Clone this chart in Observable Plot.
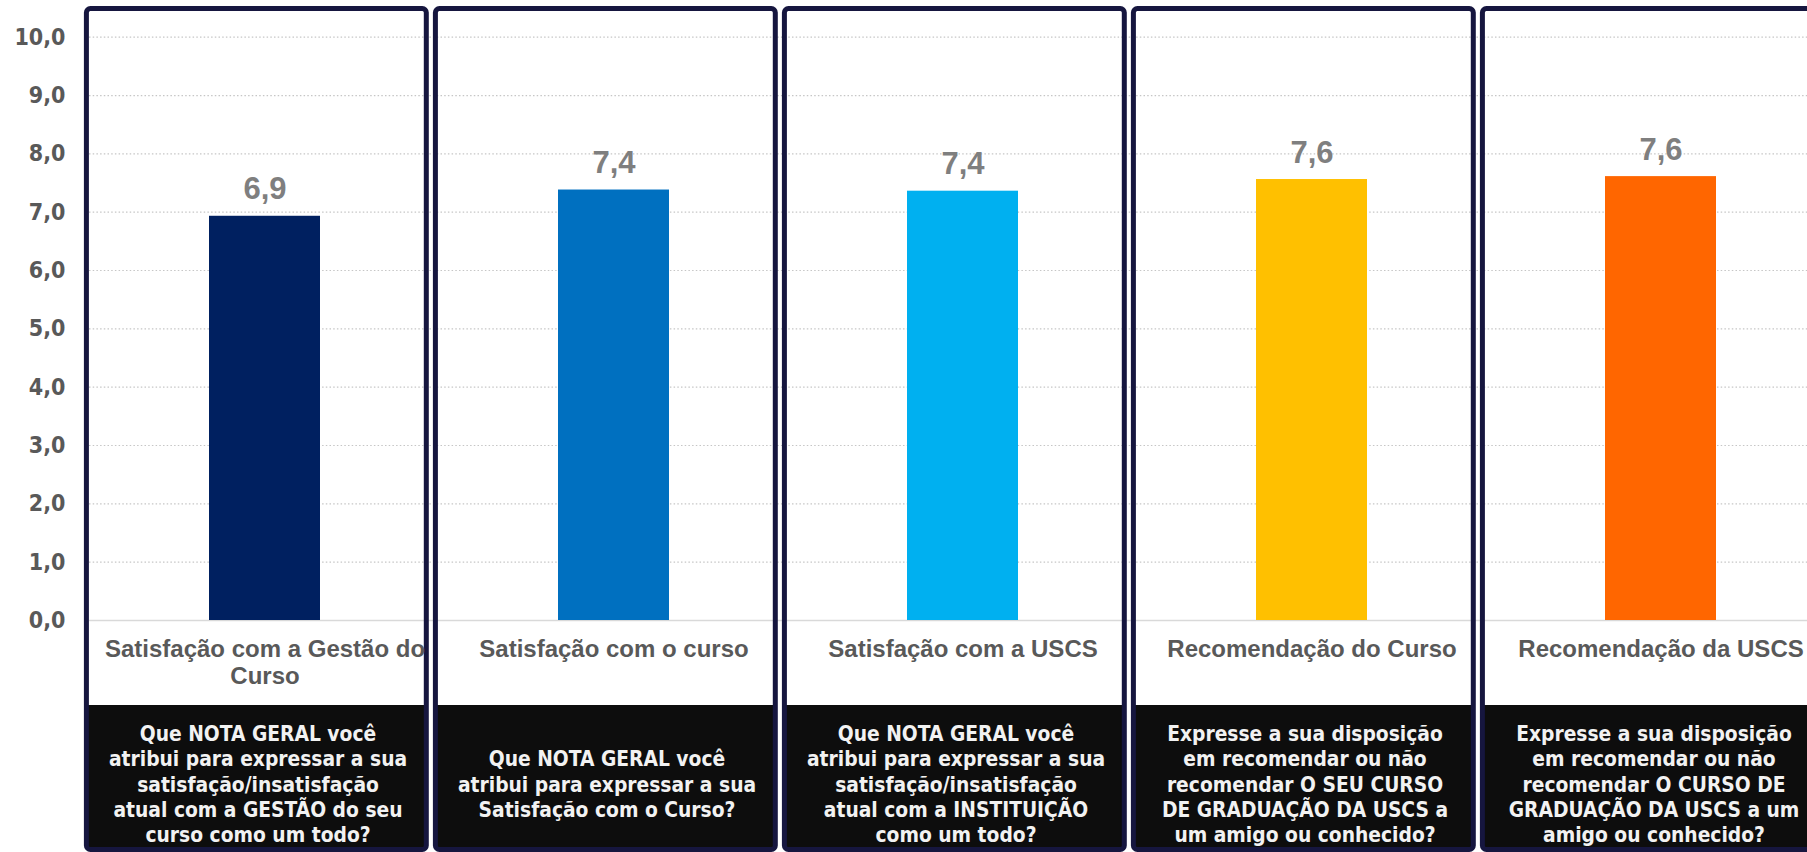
<!DOCTYPE html>
<html>
<head>
<meta charset="utf-8">
<script src="https://cdn.jsdelivr.net/npm/d3@7"></script>
<script src="https://cdn.jsdelivr.net/npm/@observablehq/plot@0.6"></script>
<style>
  html, body { margin: 0; padding: 0; overflow: hidden; background: #ffffff; }
  #chart svg { display: block; max-width: none !important; overflow: hidden; }
</style>
</head>
<body>
<div id="chart"></div>
<script>
// ---- data ----
const categories = [
  "Satisfação com a Gestão do\nCurso",
  "Satisfação com o curso",
  "Satisfação com a USCS",
  "Recomendação do Curso",
  "Recomendação da USCS"
];
const values = [6.93, 7.38, 7.36, 7.56, 7.61];
const barColors = ["#002060", "#0070C0", "#00B0F0", "#FFC000", "#FF6600"];
const questions = [
  "Que NOTA GERAL você\natribui para expressar a sua\nsatisfação/insatisfação\natual com a GESTÃO do seu\ncurso como um todo?",
  "Que NOTA GERAL você\natribui para expressar a sua\nSatisfação com o Curso?",
  "Que NOTA GERAL você\natribui para expressar a sua\nsatisfação/insatisfação\natual com a INSTITUIÇÃO\ncomo um todo?",
  "Expresse a sua disposição\nem recomendar ou não\nrecomendar O SEU CURSO\nDE GRADUAÇÃO DA USCS a\num amigo ou conhecido?",
  "Expresse a sua disposição\nem recomendar ou não\nrecomendar O CURSO DE\nGRADUAÇÃO DA USCS a um\namigo ou conhecido?"
];
const yTicks = [0, 1, 2, 3, 4, 5, 6, 7, 8, 9, 10];
const yDomain = [0, 10];

// ---- table ----
const rows = categories.map((c, i) => ({
  category: c, value: values[i], color: barColors[i], question: questions[i]
}));
const fmt = v => d3.format(".1f")(v).replace(".", ",");

const tahoma = "'DejaVu Sans Condensed', 'DejaVu Sans', sans-serif";
const arial = "'Liberation Sans', Arial, sans-serif";
const navy = "#16163F";

// panel geometry relative to the bar band
const panelInsets = { insetLeft: -122.6, insetRight: -106.3 };

const chart = Plot.plot({
  width: 1807,
  height: 852,
  marginTop: 36.7,
  marginBottom: 232,
  marginLeft: 89,
  marginRight: 0,
  style: { fontFamily: arial, background: "#ffffff", overflow: "hidden", maxWidth: "none" },
  x: { domain: categories, range: [89, 1835], paddingInner: 0.682, paddingOuter: 0.341 },
  y: { domain: yDomain },
  marks: [
    Plot.gridY(yTicks.filter(t => t > 0), {
      stroke: "#c6c6c6", strokeOpacity: 1, strokeWidth: 1.2, strokeDasharray: "1.5 2.2"
    }),
    Plot.ruleY([0], { stroke: "#d9d9d9", strokeWidth: 1.6 }),
    Plot.barY(rows, { x: "category", y: "value", fill: "color" }),
    // black question boxes
    Plot.barY(rows, {
      x: "category", y1: yDomain[0], y2: yDomain[1], fill: "#0d0d0d",
      ...panelInsets, insetTop: 668.3, insetBottom: -229.5
    }),
    // panel borders
    Plot.barY(rows, {
      x: "category", y1: yDomain[0], y2: yDomain[1], fill: "none",
      stroke: navy, strokeWidth: 5, rx: 4,
      ...panelInsets, insetTop: -28.2, insetBottom: -229.5
    }),
    // value labels
    Plot.text(rows, {
      x: "category", y: "value", text: d => fmt(d.value),
      lineAnchor: "bottom", dy: -17, fontSize: 31, fontWeight: "bold", fill: "#7f7f7f"
    }),
    // question texts
    Plot.text(rows, {
      x: "category", frameAnchor: "bottom", text: "question",
      lineAnchor: "middle", dy: 163, dx: -7, lineHeight: 1.22,
      fontSize: 20.8, fontWeight: "bold", fill: "#f2f2f2", fontFamily: tahoma
    }),
    Plot.axisX({
      tickSize: 0, tickPadding: 17, label: null, fontSize: 24, fontWeight: "bold",
      color: "#595959", lineHeight: 1.14, fontFamily: arial
    }),
    Plot.axisY({
      ticks: yTicks, tickFormat: fmt, tickSize: 0, tickPadding: 24, label: null,
      fontSize: 23, fontWeight: "bold", color: "#595959", fontFamily: tahoma
    })
  ]
});
document.getElementById("chart").appendChild(chart);
</script>
</body>
</html>
